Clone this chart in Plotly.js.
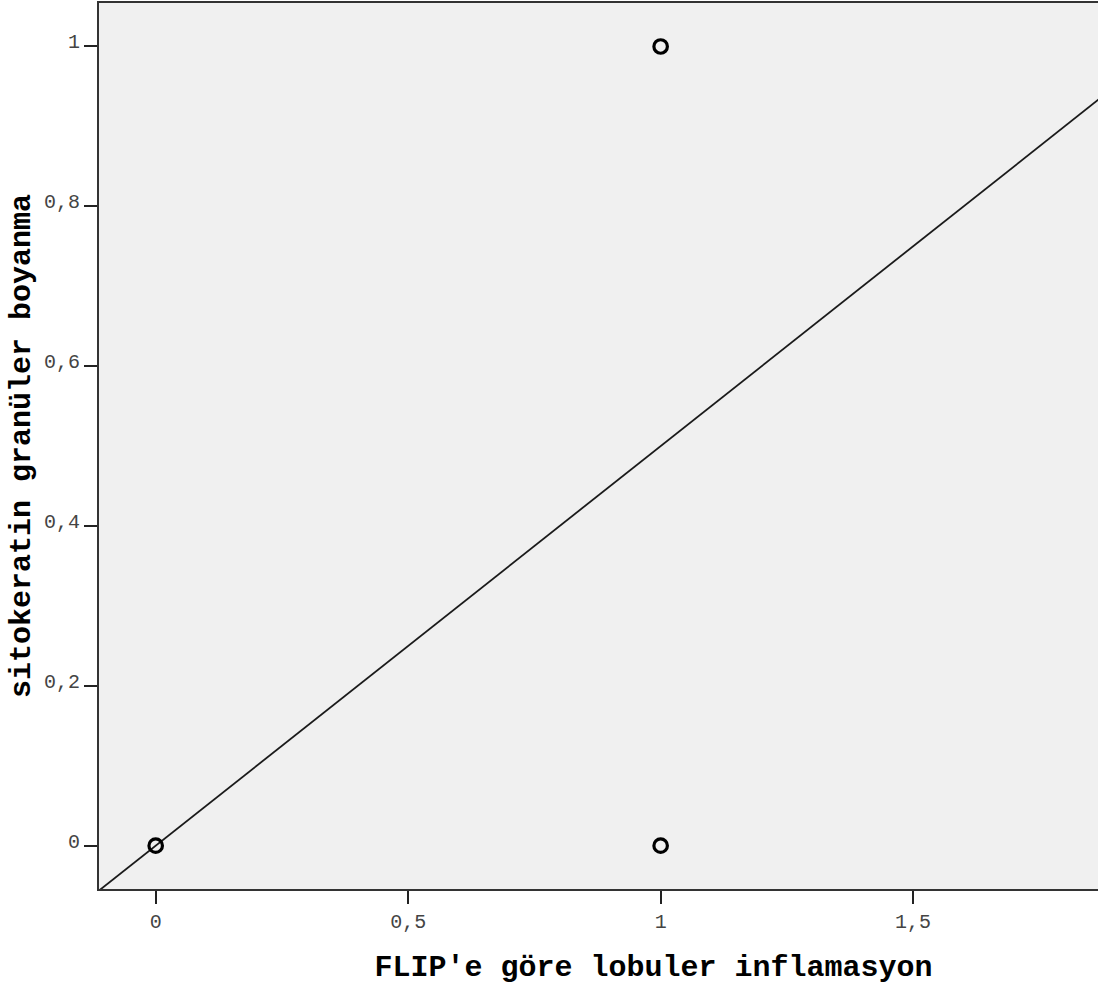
<!DOCTYPE html>
<html>
<head>
<meta charset="utf-8">
<script src="https://cdn.plot.ly/plotly-3.0.1.min.js"></script>
<style>
html,body{margin:0;padding:0;overflow:hidden;background:#fff;}
#chart{width:1215px;height:989px;}
</style>
</head>
<body>
<div id="chart"></div>
<script>
// Data
const xValues = [0, 1, 1];
const yValues = [0, 1, 0];
const fitIntercept = 0;
const fitSlope = 0.5;
const xTitle = "FLIP'e göre lobuler inflamasyon";
const yTitle = "sitokeratin granüler boyanma";
const xTickVals = [0, 0.5, 1, 1.5];
const yTickVals = [0, 0.2, 0.4, 0.6, 0.8, 1];

const xRange = [-0.1123, 2.084];
const yRange = [-0.0542, 1.0544];

const fitX = [xRange[0], xRange[1]];
const fitY = fitX.map(v => fitIntercept + fitSlope * v);

const traces = [
  {
    x: fitX, y: fitY, type: 'scatter', mode: 'lines',
    line: {color: '#1a1a1a', width: 1.8},
    hoverinfo: 'skip', showlegend: false, cliponaxis: true
  },
  {
    x: xValues, y: yValues, type: 'scatter', mode: 'markers',
    marker: {symbol: 'circle-open', size: 13.5, color: '#000', line: {width: 3.2, color: '#000'}},
    showlegend: false, cliponaxis: false
  }
];

const axisCommon = {
  showgrid: false, zeroline: false,
  showline: true, linecolor: '#333', linewidth: 2, mirror: true,
  ticks: 'outside', ticklen: 13, tickwidth: 2, tickcolor: '#222',
  tickfont: {family: 'Liberation Mono, Courier New, monospace', size: 20, color: '#444'}
};

const layout = {
  width: 1215, height: 989,
  margin: {l: 99, r: 7, t: 3, b: 100},
  paper_bgcolor: '#ffffff',
  plot_bgcolor: '#f0f0f0',
  separators: ',.',
  showlegend: false,
  xaxis: Object.assign({}, axisCommon, {
    range: xRange, tickmode: 'array', tickvals: xTickVals,
    title: {text: xTitle, standoff: 22,
      font: {family: 'Liberation Mono, Courier New, monospace', size: 30, color: '#000', weight: 'bold'}}
  }),
  yaxis: Object.assign({}, axisCommon, {
    range: yRange, tickmode: 'array', tickvals: yTickVals,
    ticklabelshift: -5,
    title: {text: yTitle, standoff: 4,
      font: {family: 'Liberation Mono, Courier New, monospace', size: 30, color: '#000', weight: 'bold'}}
  })
};

Plotly.newPlot('chart', traces, layout, {displayModeBar: false, staticPlot: true});
</script>
</body>
</html>
